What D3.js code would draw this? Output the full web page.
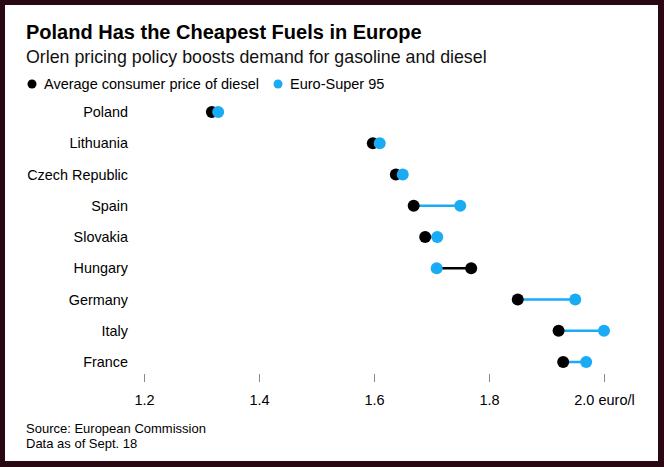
<!DOCTYPE html>
<html>
<head>
<meta charset="utf-8">
<script src="https://cdn.jsdelivr.net/npm/d3@7.9.0/dist/d3.min.js"></script>
<style>
  html, body { margin: 0; padding: 0; background: #2a0813; }
  svg { display: block; }
  text { font-family: "Liberation Sans", Arial, sans-serif; }
</style>
</head>
<body>
<div id="chart"></div>
<script>
// chart data
const countries = ["Poland", "Lithuania", "Czech Republic", "Spain", "Slovakia", "Hungary", "Germany", "Italy", "France"];
const diesel = [1.318, 1.598, 1.638, 1.669, 1.689, 1.769, 1.850, 1.921, 1.929];
const super95 = [1.329, 1.610, 1.650, 1.750, 1.710, 1.709, 1.950, 2.000, 1.969];
const ticks = [1.2, 1.4, 1.6, 1.8, 2.0];

const width = 664, height = 467;
const blue = "#1aabf5";

const svg = d3.select("#chart").append("svg")
  .attr("width", width)
  .attr("height", height);

// white card inside dark frame
svg.append("rect")
  .attr("x", 5).attr("y", 5)
  .attr("width", width - 11).attr("height", height - 11)
  .attr("fill", "#fff");

svg.append("text")
  .attr("x", 26).attr("y", 39)
  .style("font-size", "20px")
  .style("font-weight", "bold")
  .text("Poland Has the Cheapest Fuels in Europe");

svg.append("text")
  .attr("x", 26).attr("y", 63)
  .style("font-size", "17.8px")
  .attr("fill", "#111")
  .text("Orlen pricing policy boosts demand for gasoline and diesel");

// legend
const legend = [
  { label: "Average consumer price of diesel", color: "#000", x: 32 },
  { label: "Euro-Super 95", color: blue, x: 278 }
];
legend.forEach(l => {
  svg.append("circle").attr("cx", l.x).attr("cy", 84).attr("r", 4.5).attr("fill", l.color);
  svg.append("text")
    .attr("x", l.x + 12).attr("y", 89)
    .style("font-size", "14.5px")
    .text(l.label);
});

const x = d3.scaleLinear().domain([1.2, 2.0]).range([144, 604]);
const y = d3.scalePoint().domain(countries).range([112, 362]);

const rows = countries.map((c, i) => ({ country: c, diesel: diesel[i], super95: super95[i] }));

// country labels
svg.append("g").selectAll("text")
  .data(rows)
  .enter().append("text")
  .attr("x", 128)
  .attr("y", d => y(d.country) + 5)
  .attr("text-anchor", "end")
  .style("font-size", "14.4px")
  .text(d => d.country);

// connecting lines, coloured by the more expensive fuel
svg.append("g").selectAll("line")
  .data(rows)
  .enter().append("line")
  .attr("x1", d => x(d.diesel))
  .attr("x2", d => x(d.super95))
  .attr("y1", d => y(d.country))
  .attr("y2", d => y(d.country))
  .attr("stroke", d => d.super95 >= d.diesel ? blue : "#000")
  .attr("stroke-width", 2.5);

svg.append("g").selectAll("circle")
  .data(rows)
  .enter().append("circle")
  .attr("cx", d => x(d.diesel))
  .attr("cy", d => y(d.country))
  .attr("r", 6)
  .attr("fill", "#000");

svg.append("g").selectAll("circle")
  .data(rows)
  .enter().append("circle")
  .attr("cx", d => x(d.super95))
  .attr("cy", d => y(d.country))
  .attr("r", 6)
  .attr("fill", blue);

// x axis
const axis = d3.axisBottom(x)
  .tickValues(ticks)
  .tickSize(8)
  .tickPadding(13)
  .tickFormat(d => d === 2.0 ? "2.0 euro/l" : d3.format(".1f")(d));

const ax = svg.append("g")
  .attr("transform", "translate(0,374)")
  .call(axis);
ax.select(".domain").remove();
ax.selectAll(".tick line").attr("stroke", "#888");
ax.selectAll(".tick text")
  .attr("fill", "#000")
  .style("font-size", "14.5px")
  .style("font-family", "Liberation Sans, Arial, sans-serif");

svg.append("text")
  .attr("x", 26).attr("y", 433)
  .style("font-size", "13px")
  .text("Source: European Commission");
svg.append("text")
  .attr("x", 26).attr("y", 448)
  .style("font-size", "13px")
  .text("Data as of Sept. 18");
</script>
</body>
</html>
